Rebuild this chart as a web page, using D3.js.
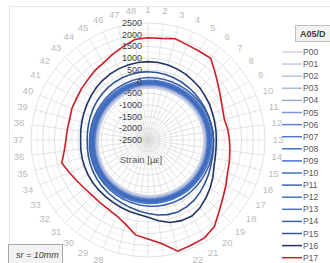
<!DOCTYPE html>
<html>
<head>
<meta charset="utf-8">
<script src="https://cdnjs.cloudflare.com/ajax/libs/d3/7.8.5/d3.min.js"></script>
<style>
body { margin: 0; background: #fff; }
svg text { font-family: "Liberation Sans", Arial, sans-serif; }
</style>
</head>
<body>
<svg id="chart" width="330" height="263"></svg>
<script>
// categories around the radar (measurement points)
var categories = [1,2,3,4,5,6,7,8,9,10,11,12,13,14,15,16,17,18,19,20,21,22,23,24,
                  25,26,27,28,29,30,31,32,33,34,35,36,37,38,39,40,41,42,43,44,45,46,47,48];
var tickValues = [-2500,-2000,-1500,-1000,-500,0,500,1000,1500,2000,2500];
var minorValues = [-2250,-1750,-1250,-750,-250,250,750,1250,1750,2250];
var seriesNames = ["P00","P01","P02","P03","P04","P05","P06","P07","P08","P09",
                   "P10","P11","P12","P13","P14","P15","P16","P17"];
var seriesColors = ["#cdd4e6","#c3cbe2","#b8c3de","#a9b7da","#98aad6","#7f97cf","#5e82cb","#4f77c6",
                    "#4472c4","#4472c4","#3f6cc0","#3b67b8","#4472c4","#4a76c4","#3d62ab","#2f5597",
                    "#1f3462","#c8202a"];

// strain values [µε] per category
var P00 = [-280,-270,-260,-250,-240,-220,-200,-180,-160,-140,-125,-115,-110,-105,-100,-95,-90,-85,-80,-80,-85,-90,-100,-110,
           -120,-135,-150,-170,-190,-210,-230,-250,-280,-310,-330,-350,-370,-375,-380,-380,-375,-370,-360,-350,-335,-320,-305,-290];
var P01 = [-240,-230,-220,-210,-200,-180,-160,-140,-120,-100,-85,-75,-70,-65,-60,-55,-50,-45,-40,-40,-45,-50,-60,-70,
           -80,-95,-110,-130,-150,-170,-190,-210,-240,-270,-290,-310,-330,-335,-340,-340,-335,-330,-320,-310,-295,-280,-265,-250];
var P02 = [-210,-200,-190,-180,-170,-150,-130,-110,-90,-70,-55,-45,-40,-35,-30,-25,-20,-15,-10,-10,-15,-20,-30,-40,
           -50,-65,-80,-100,-120,-140,-160,-180,-210,-240,-260,-280,-300,-305,-310,-310,-305,-300,-290,-280,-265,-250,-235,-220];
var P03 = [-180,-170,-160,-150,-140,-120,-100,-80,-60,-40,-25,-15,-10,-5,0,5,10,15,20,20,15,10,0,-10,
           -20,-35,-50,-70,-90,-110,-130,-150,-180,-210,-230,-250,-270,-275,-280,-280,-275,-270,-260,-250,-235,-220,-205,-190];
var P04 = [-160,-150,-140,-130,-120,-100,-80,-60,-40,-20,-5,5,10,15,20,25,30,35,40,40,35,30,20,10,
           0,-15,-30,-50,-70,-90,-110,-130,-160,-190,-210,-230,-250,-255,-260,-260,-255,-250,-240,-230,-215,-200,-185,-170];
var P05 = [-140,-130,-120,-110,-100,-80,-60,-40,-20,0,15,25,30,35,40,45,50,55,60,60,55,50,40,30,
           20,5,-10,-30,-50,-70,-90,-110,-140,-170,-190,-210,-230,-235,-240,-240,-235,-230,-220,-210,-195,-180,-165,-150];
var P06 = [-120,-110,-100,-90,-80,-60,-40,-20,0,20,35,45,50,55,60,65,70,75,80,80,75,70,60,50,
           40,25,10,-10,-30,-50,-70,-90,-120,-150,-170,-190,-210,-215,-220,-220,-215,-210,-200,-190,-175,-160,-145,-130];
var P07 = [-100,-90,-80,-70,-60,-40,-20,0,20,40,55,65,70,75,80,85,90,95,100,100,95,90,80,70,
           60,45,30,10,-10,-30,-50,-70,-100,-130,-150,-170,-190,-195,-200,-200,-195,-190,-180,-170,-155,-140,-125,-110];
var P08 = [-80,-70,-60,-50,-40,-20,0,20,40,60,75,85,90,95,100,105,110,115,120,120,115,110,100,90,
           80,65,50,30,10,-10,-30,-50,-80,-110,-130,-150,-170,-175,-180,-180,-175,-170,-160,-150,-135,-120,-105,-90];
var P09 = [-60,-50,-40,-30,-20,0,20,40,60,80,95,105,110,115,120,125,130,135,140,140,135,130,120,110,
           100,85,70,50,30,10,-10,-30,-60,-90,-110,-130,-150,-155,-160,-160,-155,-150,-140,-130,-115,-100,-85,-70];
var P10 = [-40,-30,-20,-10,0,20,40,60,80,100,115,125,130,135,140,145,150,155,160,160,155,150,140,130,
           120,105,90,70,50,30,10,-10,-40,-70,-90,-110,-130,-135,-140,-140,-135,-130,-120,-110,-95,-80,-65,-50];
var P11 = [-20,-10,0,10,20,40,60,80,100,120,135,145,150,155,160,165,170,175,180,180,175,170,160,150,
           140,125,110,90,70,50,30,10,-20,-50,-70,-90,-110,-115,-120,-120,-115,-110,-100,-90,-75,-60,-45,-30];
var P12 = [10,20,30,40,50,70,90,110,130,150,165,175,180,185,190,195,200,205,210,210,205,200,190,180,
           170,155,140,120,100,80,60,40,10,-20,-40,-60,-80,-85,-90,-90,-85,-80,-70,-60,-45,-30,-15,0];
var P13 = [50,60,70,80,90,110,130,150,170,190,205,215,220,225,230,235,240,245,250,250,245,240,230,220,
           210,195,180,160,140,120,100,80,50,20,0,-20,-40,-45,-50,-50,-45,-40,-30,-20,-5,10,25,40];
var P14 = [170,175,180,185,190,200,215,230,250,270,285,295,300,305,310,320,335,350,365,380,385,380,370,355,
           330,300,270,240,210,180,150,120,90,60,40,20,0,-5,-5,0,10,20,40,60,80,100,130,150];
var P15 = [420,410,400,380,360,340,320,300,290,280,280,290,300,320,350,400,480,560,650,740,800,830,800,730,
           640,560,480,420,370,330,290,250,210,170,140,110,100,110,130,160,200,240,280,320,350,380,400,415];
var P16 = [850,840,820,780,740,680,640,580,540,480,450,430,420,430,470,550,700,850,1000,1150,1250,1230,1150,980,
           800,700,650,600,550,520,500,480,460,440,420,400,380,400,430,470,520,580,640,700,750,790,820,840];
var P17 = [1870,1880,1980,1900,1880,1900,1560,1290,1090,950,880,940,980,1030,1100,1180,1345,1540,1800,2160,2330,2360,2420,1965,
           1730,1590,1220,1005,905,870,860,905,1005,1140,1316,1110,1010,975,965,1020,1035,1090,1140,1235,1310,1460,1630,1830];

var seriesValues = [P00,P01,P02,P03,P04,P05,P06,P07,P08,P09,P10,P11,P12,P13,P14,P15,P16,P17];

var CX = 148, CY = 140, RADIUS = 117, LABEL_R = 130;

var svg = d3.select("#chart");

// chart area border
svg.append("rect")
    .attr("x", 9.5).attr("y", 6.5)
    .attr("width", 330).attr("height", 270)
    .style("fill", "none")
    .style("stroke", "#e6e6e6")
    .style("stroke-width", 1);

var r = d3.scaleLinear().domain([-2500, 2500]).range([0, RADIUS]);
var angle = d3.scaleLinear().domain([0, categories.length]).range([0, 2 * Math.PI]);

var g = svg.append("g").attr("transform", "translate(" + CX + "," + CY + ")");

var ring = d3.lineRadial()
    .angle(function(d, i) { return angle(i); })
    .radius(function(d) { return r(d); })
    .curve(d3.curveLinearClosed);

// minor and major gridlines
g.selectAll(".minor")
    .data(minorValues)
    .enter().append("path")
    .attr("d", function(v) { return ring(categories.map(function() { return v; })); })
    .style("fill", "none")
    .style("stroke", "#efefef")
    .style("stroke-width", 0.8);

g.selectAll(".major")
    .data(tickValues)
    .enter().append("path")
    .attr("d", function(v) { return ring(categories.map(function() { return v; })); })
    .style("fill", "none")
    .style("stroke", "#d9d9d9")
    .style("stroke-width", 0.8);

// spokes
g.selectAll(".spoke")
    .data(categories)
    .enter().append("line")
    .attr("x1", 0).attr("y1", 0)
    .attr("x2", function(d, i) { return RADIUS * Math.sin(angle(i)); })
    .attr("y2", function(d, i) { return -RADIUS * Math.cos(angle(i)); })
    .style("stroke", "#d9d9d9")
    .style("stroke-width", 0.7);

// category labels
g.selectAll(".cat")
    .data(categories)
    .enter().append("text")
    .attr("x", function(d, i) { return LABEL_R * Math.sin(angle(i)); })
    .attr("y", function(d, i) { return -LABEL_R * Math.cos(angle(i)) + 3.3; })
    .attr("text-anchor", "middle")
    .style("font-size", "9.5px")
    .style("fill", "#bcbcbc")
    .text(function(d) { return d; });

// series
var line = d3.lineRadial()
    .angle(function(d, i) { return angle(i); })
    .radius(function(d) { return r(d); })
    .curve(d3.curveLinearClosed);

g.selectAll(".series")
    .data(seriesValues)
    .enter().append("path")
    .attr("d", line)
    .style("fill", "none")
    .style("stroke", function(d, i) { return seriesColors[i]; })
    .style("stroke-width", 1.6);

// value axis labels
g.selectAll(".tick")
    .data(tickValues)
    .enter().append("text")
    .attr("x", -6)
    .attr("y", function(v) { return -r(v) + 3; })
    .attr("text-anchor", "end")
    .style("font-size", "9px")
    .style("fill", "#404040")
    .text(function(v) { return v; });

g.append("text")
    .attr("x", -7).attr("y", 23)
    .attr("text-anchor", "middle")
    .style("font-size", "9.5px")
    .style("fill", "#595959")
    .text("Strain [µε]");

// legend
var legend = svg.append("g");
legend.append("rect")
    .attr("x", 295.5).attr("y", 25.5)
    .attr("width", 40).attr("height", 16)
    .style("fill", "#f2f2f2")
    .style("stroke", "#bfbfbf");
legend.append("text")
    .attr("x", 300).attr("y", 37)
    .style("font-size", "9px")
    .style("font-weight", "bold")
    .style("fill", "#404040")
    .text("A05/D");

var item = legend.selectAll(".item")
    .data(seriesNames)
    .enter().append("g")
    .attr("transform", function(d, i) { return "translate(0," + (52 + i * 12.1) + ")"; });
item.append("line")
    .attr("x1", 282).attr("x2", 302)
    .style("stroke", function(d, i) { return seriesColors[i]; })
    .style("stroke-width", 1.5);
item.append("text")
    .attr("x", 303).attr("y", 3)
    .style("font-size", "8.5px")
    .style("fill", "#595959")
    .text(function(d) { return d; });

// note box
svg.append("rect")
    .attr("x", 8.5).attr("y", 244.5)
    .attr("width", 54).attr("height", 22)
    .style("fill", "#f2f2f2")
    .style("stroke", "#a6a6a6");
svg.append("text")
    .attr("x", 16).attr("y", 258)
    .style("font-size", "9px")
    .style("font-style", "italic")
    .style("fill", "#404040")
    .text("sr = 10mm");
</script>
</body>
</html>
